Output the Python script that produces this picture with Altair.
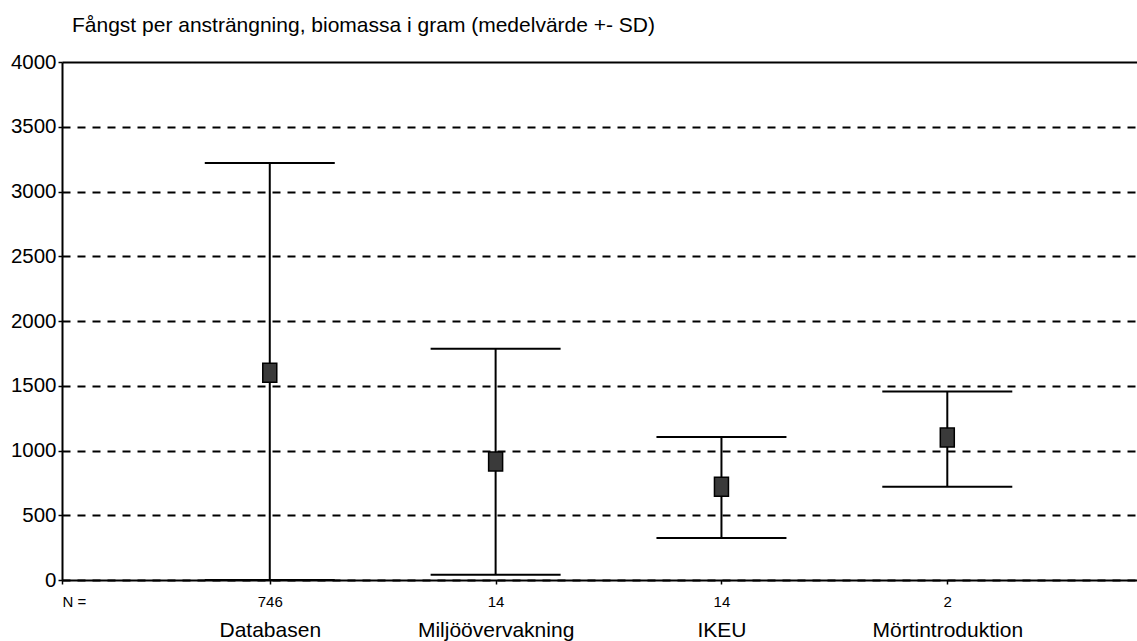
import json
import altair as alt
import pandas as pd

# ---- data ----
groups = ["Databasen", "Miljöövervakning", "IKEU", "Mörtintroduktion"]
n_values = ["746", "14", "14", "2"]
positions = [1, 2, 3, 4]
means = [1600, 915, 720, 1100]
sd_upper = [3220, 1785, 1105, 1455]
sd_lower = [0, 40, 325, 720]

y_ticks = [0, 500, 1000, 1500, 2000, 2500, 3000, 3500, 4000]
x_domain = [0.08, 4.84]
title_text = "Fångst per ansträngning, biomassa i gram (medelvärde +- SD)"

df = pd.DataFrame({
    "pos": positions,
    "group": groups,
    "n": n_values,
    "mean": means,
    "lo": sd_lower,
    "hi": sd_upper,
})

FONT = "Liberation Sans"

y_scale = alt.Scale(domain=[y_ticks[0], y_ticks[-1]], nice=False, zero=True)
y_axis = alt.Axis(
    values=y_ticks,
    format="d",
    title=None,
    grid=True,
    gridColor="black",
    gridWidth=1.8,
    gridOpacity=1,
    gridDash=alt.condition(alt.datum.value == y_ticks[-1], alt.value([1, 0]), alt.value([8, 7])),
    domainColor="black",
    domainWidth=2,
    tickColor="black",
    tickSize=4,
    tickWidth=1.5,
    labelFont=FONT,
    labelFontSize=20.5,
    labelColor="black",
    labelPadding=2,
)

n_lookup = json.dumps(n_values)
group_lookup = json.dumps(groups)

n_axis = alt.Axis(
    orient="bottom",
    values=[x_domain[0]] + positions,
    labelExpr=f"datum.value < 0.5 ? 'N =' : {n_lookup}[round(datum.value) - 1]",
    title=None,
    grid=False,
    domainColor="black",
    domainWidth=2,
    tickColor="black",
    tickSize=4,
    tickWidth=1.5,
    labelFont=FONT,
    labelFontSize=15,
    labelColor="black",
    labelPadding=10,
    labelFlush=True,
)

name_axis = alt.Axis(
    orient="bottom",
    values=positions,
    labelExpr=f"{group_lookup}[round(datum.value) - 1]",
    title=None,
    grid=False,
    domain=False,
    ticks=False,
    labelFont=FONT,
    labelFontSize=21,
    labelColor="black",
    labelPadding=39,
)

x_scale = alt.Scale(domain=x_domain, nice=False, zero=False)

base = alt.Chart(df)

whiskers = base.mark_rule(color="black", strokeWidth=2).encode(
    x=alt.X("pos:Q", scale=x_scale, axis=n_axis),
    y=alt.Y("lo:Q", scale=y_scale, axis=y_axis),
    y2="hi:Q",
)

caps = base.transform_fold(["lo", "hi"], as_=["which", "val"]).mark_tick(
    color="black", orient="horizontal", size=130, thickness=2, opacity=1
).encode(
    x=alt.X("pos:Q", scale=x_scale, axis=None),
    y=alt.Y("val:Q", scale=y_scale, axis=y_axis),
)

markers = base.mark_point(
    shape="M-1,-1.35L1,-1.35L1,1.35L-1,1.35Z",
    filled=True,
    fill="#3a3a3a",
    stroke="black",
    strokeWidth=1.5,
    opacity=1,
    size=196,
).encode(
    x=alt.X("pos:Q", scale=x_scale, axis=name_axis),
    y=alt.Y("mean:Q", scale=y_scale, axis=y_axis),
)

chart = (
    alt.layer(whiskers, caps, markers)
    .resolve_scale(x="independent")
    .properties(
        width=1075,
        height=518,
        autosize=alt.AutoSizeParams(type="none"),
        padding={"left": 62, "top": 62, "right": 0, "bottom": 61},
        title=alt.TitleParams(
            text=title_text,
            anchor="start",
            frame="group",
            dx=10,
            offset=16,
            font=FONT,
            fontSize=21,
            fontWeight="normal",
            color="black",
        ),
        background="white",
    )
    .configure_view(stroke=None)
)

chart.save("out.html", embed_options={"renderer": "svg", "actions": False})
